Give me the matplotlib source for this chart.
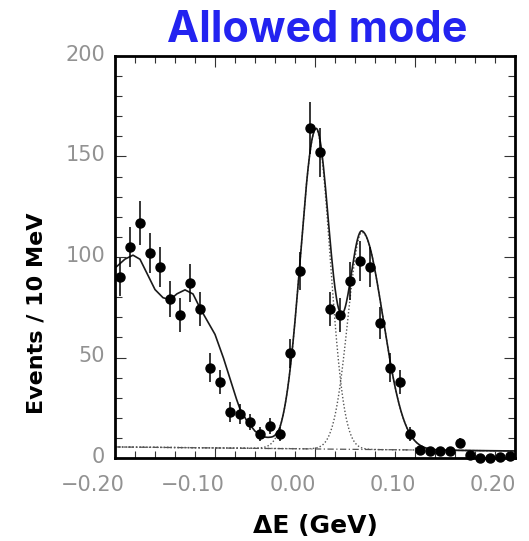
import matplotlib
matplotlib.use("Agg")
import matplotlib.pyplot as plt
import matplotlib.transforms as mtransforms
from matplotlib.ticker import MultipleLocator, FuncFormatter
import numpy as np

# ── data ──────────────────────────────────────────────────────────────────────
BIN_CENTRES = np.linspace(-0.195, 0.195, 40)          # 10 MeV bins, GeV
EVENTS = [90, 105, 117, 102, 95, 79, 71, 87, 74, 45,
          38, 23, 22, 18, 12, 16, 12, 52, 93, 164,
          152, 74, 71, 88, 98, 95, 67, 45, 38, 12,
          4, 3.5, 3.5, 3.5, 7.5, 1.5, 0, 0, 0.5, 1]
ERRORS = [9.5, 10, 11, 10, 10, 9, 8.5, 9.5, 8.5, 7,
          6, 5, 5, 4, 3.5, 4, 3.5, 7, 9.5, 13,
          12, 8.5, 8.5, 9.5, 10, 10, 8, 7, 6, 3.5,
          2, 2, 2, 2, 2.5, 1, 0, 0, 0.5, 1]

# fit components
BKG_DE = [-0.20, 0.20]
BKG_LEVEL = [5.5, 3.5]
PEAK_MEAN = [0.001, 0.047]
PEAK_HEIGHT = [159, 108]
PEAK_SIGMA_LO = [0.0155, 0.014]
PEAK_SIGMA_HI = [0.014, 0.021]
# left-hand (feed-down) shape, height above the flat background
LEFT_DE = [-0.200, -0.190, -0.182, -0.175, -0.168, -0.160, -0.152, -0.145,
           -0.138, -0.130, -0.122, -0.115, -0.108, -0.100, -0.092, -0.085,
           -0.080, -0.075, -0.068, -0.060, -0.052, -0.045, -0.035, 0.200]
LEFT_SHAPE = [89, 93.5, 95.5, 93.5, 86.5, 78.5, 74.5, 73.5,
              76.5, 78.5, 76.5, 69.5, 63.5, 56.5, 45.5, 34.5,
              26.5, 19.5, 13.5, 8.5, 5.5, 3.7, 0, 0]

GREY = "#929292"


def peak(x, i):
    sig = np.where(x < PEAK_MEAN[i], PEAK_SIGMA_LO[i], PEAK_SIGMA_HI[i])
    return PEAK_HEIGHT[i] * np.exp(-0.5 * ((x - PEAK_MEAN[i]) / sig) ** 2)


def de_fmt(v, _pos):
    if abs(v) < 1e-9:
        v = 0.0
    return f"{v:.2f}".replace("-", "\u2212")


def main() -> None:
    fig = plt.figure(figsize=(5.29, 5.41), dpi=100)
    ax = fig.add_axes([115 / 529, 83 / 541, 400 / 529, 402 / 541])

    x = np.linspace(-0.2, 0.2, 801)
    bkg = np.interp(x, BKG_DE, BKG_LEVEL)
    left = np.interp(x, LEFT_DE, LEFT_SHAPE)
    p1, p2 = peak(x, 0), peak(x, 1)

    ax.plot(x, bkg, color="#555555", lw=0.9, ls=(0, (5, 2, 1, 2)))
    ax.plot(x, bkg + p1, color="#555555", lw=1.0, ls=(0, (1, 1.5)))
    ax.plot(x, bkg + p2, color="#555555", lw=1.0, ls=(0, (1, 1.5)))
    ax.plot(x, bkg + left + p1 + p2, color="#1a1a1a", lw=1.2)
    ax.errorbar(BIN_CENTRES, EVENTS, yerr=ERRORS, fmt="o", color="black",
                ms=6.5, elinewidth=1.1, capsize=0, clip_on=False, zorder=5)

    ax.set_xlim(-0.2, 0.2)
    ax.set_ylim(0, 200)
    ax.xaxis.set_major_locator(MultipleLocator(0.1))
    ax.xaxis.set_minor_locator(MultipleLocator(0.02))
    ax.yaxis.set_major_locator(MultipleLocator(50))
    ax.yaxis.set_minor_locator(MultipleLocator(10))
    ax.xaxis.set_major_formatter(FuncFormatter(de_fmt))
    ax.tick_params(which="both", direction="in", top=True, right=True,
                   color="#333333", width=0.8)
    ax.tick_params(which="major", length=8, labelsize=15, labelcolor=GREY)
    ax.tick_params(which="minor", length=5)
    ax.tick_params(axis="x", pad=12)
    ax.tick_params(axis="y", pad=7)
    for s in ax.spines.values():
        s.set_linewidth(2)

    ax.set_xlabel("\u0394E (GeV)", fontsize=18, fontweight="bold")
    ax.xaxis.set_label_coords(0.5, -0.14)
    ax.set_ylabel("Events / 10 MeV", fontsize=16, fontweight="bold")
    ax.yaxis.set_label_coords(-0.17, 0.36)

    fig.text(317 / 529, (541 - 42) / 541, "Allowed mode", ha="center", va="baseline",
             fontsize=31, fontweight="bold", family="Inter", color="#2323f0")

    # the x labels in the original sit a little left of their ticks
    fig.canvas.draw()
    shift_x = mtransforms.ScaledTranslation(-22 / 100, 0, fig.dpi_scale_trans)
    for t in ax.xaxis.get_major_ticks():
        t.label1.set_transform(t.label1.get_transform() + shift_x)
    shift_y = mtransforms.ScaledTranslation(0, 3 / 100, fig.dpi_scale_trans)
    for t in ax.yaxis.get_major_ticks():
        t.label1.set_transform(t.label1.get_transform() + shift_y)

    fig.savefig("out.png", dpi=100)


if __name__ == "__main__":
    main()
